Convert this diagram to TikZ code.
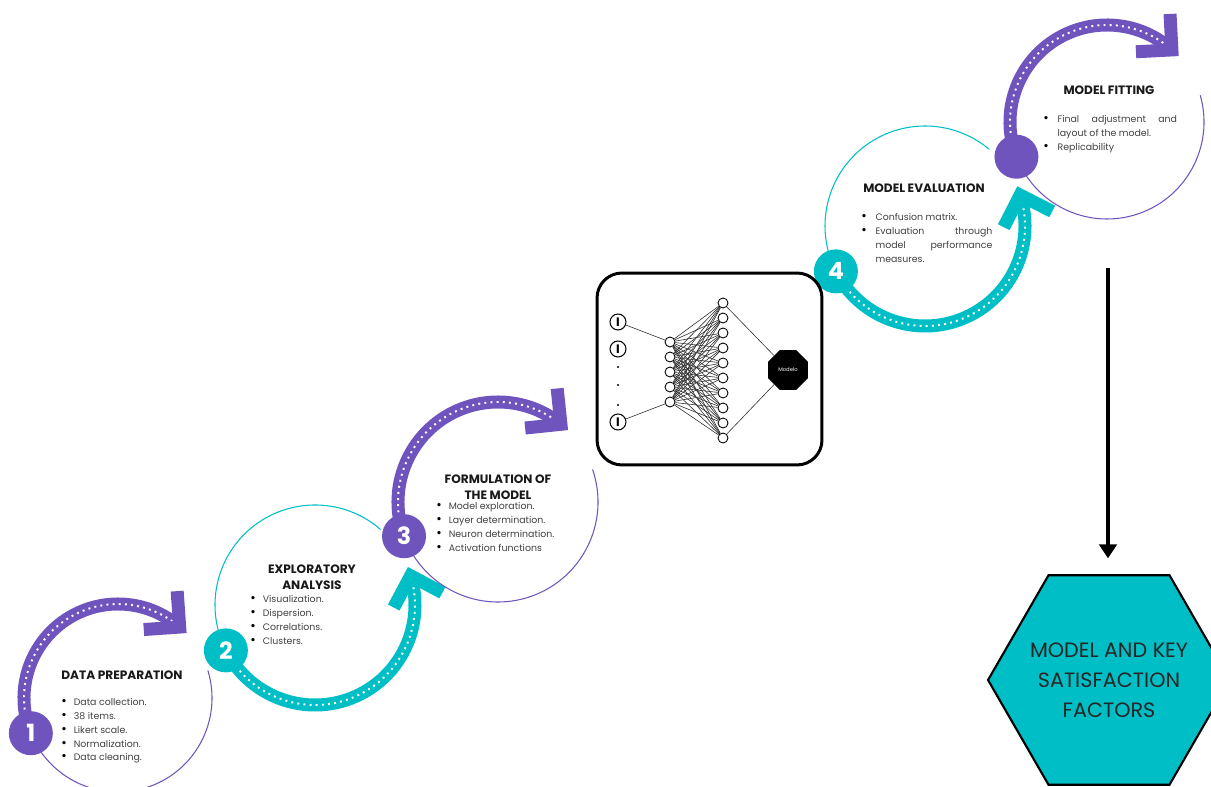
\documentclass[tikz,border=0pt]{standalone}
\usepackage{fontspec}
\setmainfont{Poppins}
\usepackage{tikz}
\usetikzlibrary{shapes.geometric, arrows.meta}

\definecolor{stepPurple}{RGB}{112,84,190}
\definecolor{stepTeal}{RGB}{0,190,198}

% one stage: thin ring, thick band ending in a chevron, disc with the number
\newcommand{\stepring}[7]{% #1 centre, #2 radius, #3 start, #4 end, #5 colour, #6 number, #7 turn (1 ccw, -1 cw)
  \pgfmathsetmacro\ringa{#4+(#7)*32}
  \pgfmathsetmacro\ringb{#3+(#7)*360}
  \pgfmathsetmacro\dotend{#4-(#7)*5}
  \pgfmathsetmacro\arma{#4-(#7)*45}
  \pgfmathsetmacro\armb{#4-(#7)*135}
  \draw[ringline, #5] (#1) ++(\ringa:#2) arc[start angle=\ringa, end angle=\ringb, radius=#2];
  \draw[bandline, #5] (#1) ++(#3:#2) arc[start angle=#3, end angle=#4, radius=#2] coordinate (#1-tip);
  \draw[dotline] (#1) ++(#3:#2) arc[start angle=#3, end angle=\dotend, radius=#2];
  \draw[bandline, #5, line join=miter] (#1-tip) ++(\arma:36) -- (#1-tip) -- ++(\armb:36);
  \path (#1) ++(#3:#2) node[numdisc, fill=#5] (#1-num) {#6};
}
\newcommand{\bul}{{\fontsize{7.5}{7.5}\selectfont\color{black}\textbullet}}

\begin{document}
\begin{tikzpicture}[x=0.02cm, y=0.02cm,
    ringline/.style={line width=0.6pt},
    bandline/.style={line width=7.4pt},
    dotline/.style={white, line width=1.1pt, dash pattern=on 1.1pt off 2.4pt},
    numdisc/.style={circle, minimum size=0.88cm, inner sep=0pt, text=white,
      font=\fontsize{13.5}{13.5}\selectfont\bfseries},
    steptitle/.style={align=center, inner sep=0pt, text=black!90,
      font=\fontsize{6.9}{9.1}\selectfont\bfseries},
    steplist/.style={anchor=base west, inner sep=0pt, text=black!75,
      font=\fontsize{5.35}{7.8}\selectfont},
    inp/.style={circle, draw, line width=0.6pt, minimum size=0.32cm, inner sep=0pt,
      font=\fontsize{7}{7}\selectfont\bfseries},
    neuron/.style={circle, draw, line width=0.5pt, minimum size=0.2cm, inner sep=0pt},
    wire/.style={black!80, line width=0.35pt}]
  \useasboundingbox (0,0) rectangle (1211,787);

  \coordinate (c1) at (118,89);
  \coordinate (c2) at (315,182);
  \coordinate (c3) at (498,285);
  \coordinate (c4) at (925,561);
  \coordinate (c5) at (1107,665);

  \stepring{c1}{94}{202}{49}{stepPurple}{1}{-1}
  \stepring{c2}{100}{207}{377}{stepTeal}{2}{1}
  \stepring{c3}{100}{200}{51}{stepPurple}{3}{-1}
  \stepring{c4}{100}{207}{378}{stepTeal}{4}{1}
  \stepring{c5}{97}{201}{48}{stepPurple}{}{-1}

  % texts of the stages
  \node[steptitle] (t1) at (122,112) {DATA PREPARATION};
  \node[steplist] (l1) at (61,81) {\begin{tabular}[t]{@{}l@{\hspace{4pt}}l@{}}
    \bul & Data collection.\\ \bul & 38 items.\\ \bul & Likert scale.\\
    \bul & Normalization.\\ \bul & Data cleaning.\end{tabular}};
  \node[steptitle] (t2) at (312,210) {EXPLORATORY\\ANALYSIS};
  \node[steplist] (l2) at (250,184) {\begin{tabular}[t]{@{}l@{\hspace{4pt}}l@{}}
    \bul & Visualization.\\ \bul & Dispersion.\\ \bul & Correlations.\\
    \bul & Clusters.\end{tabular}};
  \node[steptitle] (t3) at (498,300) {FORMULATION OF\\THE MODEL};
  \node[steplist] (l3) at (436,277) {\begin{tabular}[t]{@{}l@{\hspace{4pt}}l@{}}
    \bul & Model exploration.\\ \bul & Layer determination.\\
    \bul & Neuron determination.\\ \bul & Activation functions\end{tabular}};
  \node[steptitle] (t4) at (924,599) {MODEL EVALUATION};
  \node[steplist] (l4) at (861,566) {\begin{tabular}[t]{@{}l@{\hspace{5pt}}p{66.5pt}@{}}
    \bul & Confusion matrix.\\
    \bul & Evaluation\hfill through\newline model\hfill performance\newline measures.\end{tabular}};
  \node[steptitle] (t5) at (1109,697) {MODEL FITTING};
  \node[steplist] (l5) at (1043,664) {\begin{tabular}[t]{@{}l@{\hspace{5pt}}p{68pt}@{}}
    \bul & Final\hfill adjustment\hfill and\newline layout of the model.\\
    \bul & Replicability\end{tabular}};

  % network sketch
  \node[draw, line width=1.7pt, rounded corners=0.5cm, minimum width=4.5cm,
    minimum height=3.84cm] (nnbox) at (709.5,418) {};
  \foreach \y [count=\i] in {465,438,365}
    \node[inp] (in\i) at (618,\y) {I};
  \foreach \y in {420,402,382}
    \fill (618,\y) circle[radius=1.2];
  \foreach \k in {1,...,5}
    \node[neuron] (h\k) at (670,460-15*\k) {};
  \foreach \k in {1,...,10}
    \node[neuron] (g\k) at (723,499-15*\k) {};
  \node[regular polygon, regular polygon sides=8, fill=black, minimum size=0.86cm,
    inner sep=0pt, text=white, font=\fontsize{3}{3}\selectfont] (out) at (788,417) {Modelo};
  \draw[wire] (in1) -- (h1);
  \draw[wire] (in3) -- (h5);
  \foreach \a in {1,...,5}
    \foreach \b in {1,...,10}
      \draw[wire] (h\a) -- (g\b);
  \draw[wire] (g1) -- (out);
  \draw[wire] (g10) -- (out);

  % result
  \node[regular polygon, regular polygon sides=6, draw, line width=1.2pt, fill=stepTeal,
    minimum size=4.84cm, inner sep=-10pt, align=center, text=black!85,
    font=\fontsize{11.8}{17}\selectfont] (goal) at (1109,107)
    {MODEL AND KEY\\SATISFACTION\\FACTORS};
  \coordinate (drop) at (1108,519);
  \draw[line width=2.3pt, -{Triangle[width=10pt,length=8pt]}, shorten >=9pt]
    (drop) -- (drop |- goal.north);
\end{tikzpicture}
\end{document}
